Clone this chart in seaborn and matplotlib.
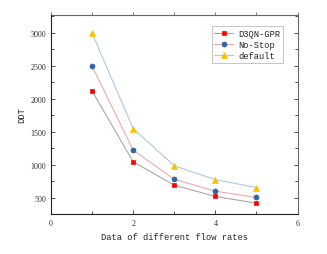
import matplotlib
matplotlib.use("Agg")
import matplotlib.pyplot as plt
import seaborn as sns
import pandas as pd
from matplotlib.ticker import MultipleLocator

flow = [1, 2, 3, 4, 5]
d3qn = [2115, 1045, 690, 520, 418]
nostop = [2490, 1220, 780, 600, 505]
default = [2990, 1545, 985, 775, 655]

series = ["D3QN-GPR", "No-Stop", "default"]
values = [d3qn, nostop, default]

sns.set_style("white")
plt.rcParams['font.family'] = ['Liberation Mono', 'DejaVu Sans Mono']

fig = plt.figure(figsize=(3.27, 2.55), dpi=100)
ax = fig.add_axes([0.156, 0.157, 0.754, 0.781])

styles = [
    dict(color="#a8a8a8", marker="s", mfc="#ff0000", mec="#ff0000", ms=3.2),
    dict(color="#f2a9aa", marker="o", mfc="#2e64a8", mec="#2e64a8", ms=3.6),
    dict(color="#a9c9e8", marker="^", mfc="#ffc000", mec="#ffc000", ms=3.8),
]

for name, vals, st in zip(series, values, styles):
    df = pd.DataFrame({"x": flow, "y": vals})
    sns.lineplot(data=df, x="x", y="y", ax=ax, color=st["color"], marker=st["marker"],
                 markerfacecolor=st["mfc"], markeredgecolor=st["mec"], markersize=st["ms"],
                 markeredgewidth=0.5, linewidth=0.8, label=name)

ax.set_xlim(0, 6)
ax.set_ylim(255, 3270)
ax.xaxis.set_major_locator(MultipleLocator(2))
ax.xaxis.set_minor_locator(MultipleLocator(1))
ax.set_yticks([500, 1000, 1500, 2000, 2500, 3000])
ax.yaxis.set_minor_locator(MultipleLocator(250))

ax.tick_params(axis="both", which="both", direction="in", labelsize=5.8, colors="#333333",
               left=True, bottom=True, right=True, top=False)
ax.tick_params(axis="both", which="major", length=3, width=0.6)
ax.tick_params(axis="both", which="minor", length=2, width=0.6)
for lab in ax.get_xticklabels() + ax.get_yticklabels():
    lab.set_family(['Liberation Serif', 'DejaVu Serif'])

sec = ax.secondary_xaxis('top')
sec.xaxis.set_major_locator(MultipleLocator(1))
sec.tick_params(axis="x", which="major", direction="out", length=2.5, width=0.6,
                colors="#666666", labeltop=False)
sec.spines["top"].set_color("#666666")
sec.spines["top"].set_linewidth(0.8)
ax.spines["top"].set_visible(False)

for s in ["left", "bottom"]:
    ax.spines[s].set_color("#222222")
    ax.spines[s].set_linewidth(0.8)
ax.spines["right"].set_color("#666666")
ax.spines["right"].set_linewidth(0.8)

ax.set_xlabel("Data of different flow rates", fontsize=6.3, labelpad=4)
ax.set_ylabel("DDT", fontsize=6.3, labelpad=3)

leg = ax.legend(loc="upper right", bbox_to_anchor=(0.96, 0.965), fontsize=6.3,
                frameon=True, fancybox=False, edgecolor="#aaaaaa", handlelength=2.2,
                borderpad=0.3, labelspacing=0.25, handletextpad=0.6)
leg.get_frame().set_linewidth(0.6)

fig.savefig("out.png", dpi=100)
